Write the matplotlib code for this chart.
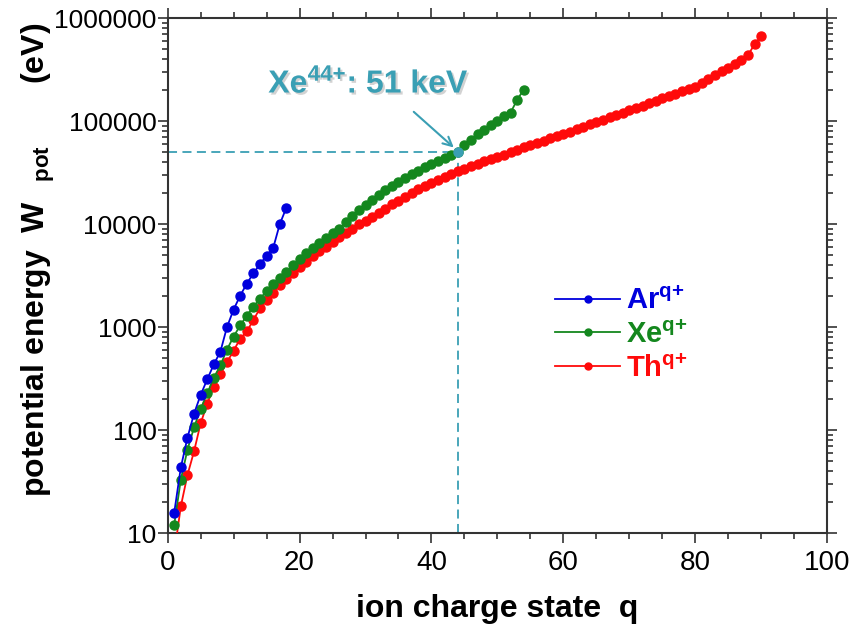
import matplotlib
matplotlib.use("Agg")
from matplotlib import pyplot as plt
from matplotlib.lines import Line2D
from matplotlib.ticker import LogLocator, MultipleLocator, NullFormatter
import matplotlib.patheffects as pe

plt.rcParams['font.family'] = ['Liberation Sans', 'DejaVu Sans']
plt.rcParams['mathtext.fontset'] = 'custom'
plt.rcParams['mathtext.rm'] = 'Liberation Sans:bold'
plt.rcParams['mathtext.bf'] = 'Liberation Sans:bold'
plt.rcParams['mathtext.it'] = 'Liberation Sans:bold'

# cumulative potential energy (eV), charge states 1..N
ar_q = list(range(1, 19))
ar_w = [15.8, 43.4, 84.1, 144, 219, 310, 434, 578, 1000, 1479, 2017, 2635,
        3321, 4077, 4932, 5850, 9971, 14397]

xe_q = list(range(1, 55))
xe_w = [12.1, 33.1, 64.2, 106, 160, 227, 319, 425, 605, 807,
        1036, 1291, 1572, 1886, 2229, 2603, 3006, 3440, 3989, 4571,
        5187, 5837, 6537, 7273, 8091, 8948, 10441, 12012, 13665, 15407,
        17233, 19152, 21175, 23287, 25503, 27820, 30256, 32799, 35456, 38227,
        41117, 44126, 47261, 50520, 58180, 66069, 74213, 82595, 91566, 100809,
        110619, 120658, 160929, 202228]

th_q = list(range(1, 91))
th_w = [6.3, 18.2, 36.5, 62, 116, 180, 262, 350, 455, 590,
        770, 905, 1170, 1520, 1830, 2150, 2540, 2920, 3330, 3800,
        4320, 4850, 5430, 5980, 6680, 7450, 8200, 8980, 9900, 10800,
        11800, 12900, 14100, 15500, 16900, 18400, 20000, 21700, 23400, 25200,
        27000, 28800, 30700, 32400, 34400, 36500, 38600, 40700, 42800, 45000,
        47300, 49800, 52500, 55400, 58500, 61500, 64600, 67800, 71200, 75000,
        79000, 83300, 87800, 92600, 97600, 102900, 108500, 114400, 120600, 127100,
        134000, 141300, 149000, 157000, 165500, 174500, 184000, 194000, 204500, 215500,
        236000, 258000, 281000, 305000, 330000, 358000, 395000, 437000, 556000, 668000]

mark_q = 44
mark_w = 50520

c_ar = '#0000dd'
c_xe = '#14871e'
c_th = '#ff0a0a'
c_note = '#3a9fb4'

fig = plt.figure(figsize=(8.51, 6.43), dpi=100)
ax = fig.add_axes([0.197, 0.171, 0.775, 0.801])

ax.plot(th_q, th_w, '-o', color=c_th, lw=1.3, ms=6.5, zorder=3)
ax.plot(xe_q, xe_w, '-o', color=c_xe, lw=1.3, ms=6.5, zorder=4)
ax.plot(ar_q, ar_w, '-o', color=c_ar, lw=1.3, ms=6.5, zorder=5)

# guide lines to the Xe44+ point
ax.plot([0, mark_q], [mark_w, mark_w], ls=(0, (5, 3)), color=c_note, lw=1.3, zorder=2)
ax.plot([mark_q, mark_q], [10, mark_w], ls=(0, (5, 3)), color=c_note, lw=1.3, zorder=2)
ax.plot([mark_q], [mark_w], 'o', color=c_note, ms=6.5, zorder=6)

ax.annotate('', xy=(mark_q - 0.3, mark_w * 1.05), xytext=(37, 128000),
            arrowprops=dict(arrowstyle='->', color=c_note, lw=1.5, mutation_scale=16))
ax.text(30.5, 228000, r'Xe$^{44{+}}$: 51 keV', color=c_note, fontsize=23,
        fontweight='bold', ha='center', va='center',
        path_effects=[pe.withSimplePatchShadow(offset=(1.5, -1.5), shadow_rgbFace='gray', alpha=0.35)])

ax.set_yscale('log')
ax.set_xlim(0, 100)
ax.set_ylim(10, 1e6)
ax.xaxis.set_major_locator(MultipleLocator(20))
ax.xaxis.set_minor_locator(MultipleLocator(5))
ax.yaxis.set_minor_locator(LogLocator(base=10, subs=range(2, 10), numticks=20))
ax.yaxis.set_minor_formatter(NullFormatter())
ax.set_yticks([10, 100, 1000, 10000, 100000, 1000000])
ax.set_yticklabels(['10', '100', '1000', '10000', '100000', '1000000'])

ax.tick_params(which='both', direction='out', top=True, right=True, width=1.2, color='#333333')
ax.tick_params(which='major', length=7)
ax.tick_params(which='minor', length=4)
ax.tick_params(axis='y', labelsize=19, pad=1)
ax.tick_params(axis='x', labelsize=20, pad=5)
for s in ax.spines.values():
    s.set_linewidth(1.5)
    s.set_color('#333333')

ax.set_xlabel('ion charge state  q', fontsize=23, fontweight='bold', labelpad=13)
ax.set_ylabel(r'potential energy  W$_{\quad\mathrm{pot}}$       (eV)', fontsize=23,
              fontweight='bold')
ax.yaxis.set_label_coords(-0.168, 0.53)

handles = [Line2D([], [], color=c_ar, marker='o', ms=5, lw=1.3),
           Line2D([], [], color=c_xe, marker='o', ms=5, lw=1.3),
           Line2D([], [], color=c_th, marker='o', ms=5, lw=1.3)]
labels = [r'Ar$^{q{+}}$', r'Xe$^{q{+}}$', r'Th$^{q{+}}$']
leg = ax.legend(handles, labels, loc='upper left', bbox_to_anchor=(0.587, 0.478),
                frameon=False, handlelength=2.25, labelspacing=0.2, handletextpad=0.2,
                borderpad=0, borderaxespad=0,
                prop={'size': 21, 'weight': 'bold'}, labelcolor='linecolor')

fig.savefig('out.png', dpi=100)
